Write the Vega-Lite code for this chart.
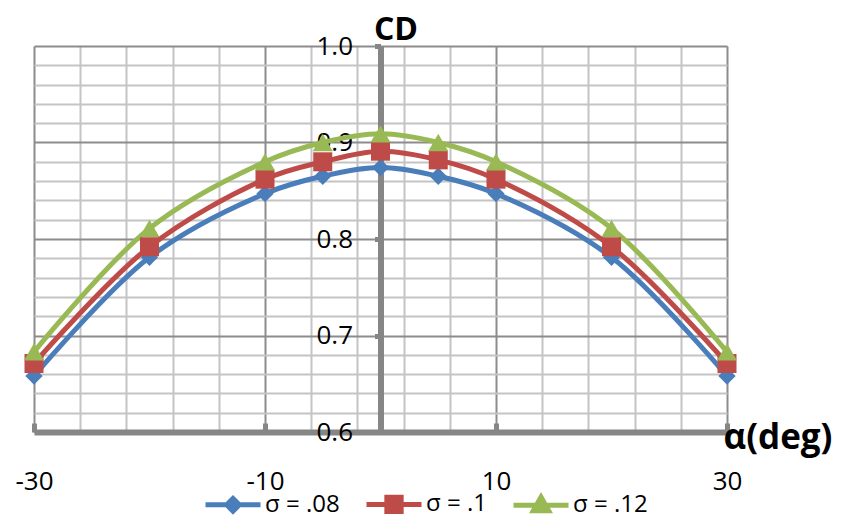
{
  "$schema": "https://vega.github.io/schema/vega-lite/v6.json",
  "width": 693,
  "height": 386,
  "autosize": "none",
  "padding": {"left": 34, "top": 46, "right": 116, "bottom": 86},
  "background": "white",
  "config": {"font": "Open Sans", "view": {"stroke": null}},
  "data": {
    "values": [
      {"alpha": -30, "cd": 0.658, "sigma": "σ = .08"},
      {"alpha": -20, "cd": 0.781, "sigma": "σ = .08"},
      {"alpha": -10, "cd": 0.847, "sigma": "σ = .08"},
      {"alpha": -5, "cd": 0.865, "sigma": "σ = .08"},
      {"alpha": 0, "cd": 0.874, "sigma": "σ = .08"},
      {"alpha": 5, "cd": 0.865, "sigma": "σ = .08"},
      {"alpha": 10, "cd": 0.847, "sigma": "σ = .08"},
      {"alpha": 20, "cd": 0.781, "sigma": "σ = .08"},
      {"alpha": 30, "cd": 0.658, "sigma": "σ = .08"},
      {"alpha": -30, "cd": 0.671, "sigma": "σ = .1"},
      {"alpha": -20, "cd": 0.792, "sigma": "σ = .1"},
      {"alpha": -10, "cd": 0.862, "sigma": "σ = .1"},
      {"alpha": -5, "cd": 0.88, "sigma": "σ = .1"},
      {"alpha": 0, "cd": 0.891, "sigma": "σ = .1"},
      {"alpha": 5, "cd": 0.882, "sigma": "σ = .1"},
      {"alpha": 10, "cd": 0.862, "sigma": "σ = .1"},
      {"alpha": 20, "cd": 0.792, "sigma": "σ = .1"},
      {"alpha": 30, "cd": 0.671, "sigma": "σ = .1"},
      {"alpha": -30, "cd": 0.683, "sigma": "σ = .12"},
      {"alpha": -20, "cd": 0.811, "sigma": "σ = .12"},
      {"alpha": -10, "cd": 0.88, "sigma": "σ = .12"},
      {"alpha": -5, "cd": 0.9, "sigma": "σ = .12"},
      {"alpha": 0, "cd": 0.909, "sigma": "σ = .12"},
      {"alpha": 5, "cd": 0.9, "sigma": "σ = .12"},
      {"alpha": 10, "cd": 0.88, "sigma": "σ = .12"},
      {"alpha": 20, "cd": 0.811, "sigma": "σ = .12"},
      {"alpha": 30, "cd": 0.683, "sigma": "σ = .12"}
    ]
  },
  "encoding": {
    "x": {
      "field": "alpha",
      "type": "quantitative",
      "scale": {"domain": [-30, 30], "nice": false, "zero": false},
      "axis": {
        "orient": "bottom",
        "values": [-30, -26, -22, -18, -14, -10, -6, -2, 2, 6, 10, 14, 18, 22, 26, 30],
        "grid": true,
        "gridWidth": 2,
        "gridColor": {"condition": {"test": "abs(datum.value) == 10 || abs(datum.value) == 30", "value": "#8c8c8c"}, "value": "#c4c4c4"},
        "domain": true,
        "domainColor": "#868686",
        "domainWidth": 6,
        "ticks": true,
        "tickColor": "#868686",
        "tickWidth": 5,
        "tickSize": -9,
        "tickOpacity": {"condition": {"test": "abs(datum.value) == 10 || abs(datum.value) == 30", "value": 1}, "value": 0},
        "labelExpr": "abs(datum.value) == 10 || abs(datum.value) == 30 ? toString(datum.value) : ''",
        "labelFont": "Open Sans",
        "labelFontSize": 26,
        "labelColor": "black",
        "labelBaseline": "alphabetic",
        "labelPadding": 66,
        "labelFlush": false,
        "labelOverlap": false,
        "title": "α(deg)",
        "titleFont": "Open Sans",
        "titleFontSize": 35,
        "titleFontWeight": "bold",
        "titleColor": "black",
        "titleAlign": "left",
        "titleBaseline": "alphabetic",
        "titleAnchor": null,
        "titleX": 689,
        "titleY": 16
      }
    },
    "y": {
      "field": "cd",
      "type": "quantitative",
      "scale": {"domain": [0.6, 1.0], "nice": false, "zero": false}
    },
    "color": {
      "field": "sigma",
      "type": "nominal",
      "scale": {"domain": ["σ = .08", "σ = .1", "σ = .12"], "range": ["#4a7ebb", "#be4b48", "#98b954"]},
      "legend": {
        "orient": "none",
        "legendX": 169,
        "legendY": 428,
        "direction": "horizontal",
        "title": null,
        "padding": 0,
        "symbolSize": 3025,
        "symbolStrokeWidth": 5,
        "labelFont": "Open Sans",
        "labelFontSize": 24,
        "labelColor": "black",
        "labelOffset": 2,
        "columnPadding": 16,
        "encode": {
          "symbols": {
            "update": {
              "shape": {"signal": "datum.value === 'σ = .08' ? 'M-1,0H1M0,-0.23L0.23,0L0,0.23L-0.23,0Z' : datum.value === 'σ = .1' ? 'M-1,0H1M-0.26,-0.26H0.26V0.26H-0.26Z' : 'M-1,0H1M0,-0.3L0.28,0.2H-0.28Z'"},
              "fill": {"scale": "color", "field": "value"},
              "stroke": {"scale": "color", "field": "value"},
              "fillOpacity": {"value": 1},
              "strokeOpacity": {"value": 1}
            }
          }
        }
      }
    }
  },
  "layer": [
    {
      "mark": {"type": "line", "interpolate": "catmull-rom", "strokeWidth": 5},
      "encoding": {
        "y": {
          "field": "cd",
          "type": "quantitative",
          "axis": {
            "orient": "left",
            "values": [0.6, 0.62, 0.64, 0.66, 0.68, 0.7, 0.72, 0.74, 0.76, 0.78, 0.8, 0.82, 0.84, 0.86, 0.88, 0.9, 0.92, 0.94, 0.96, 0.98, 1.0],
            "grid": true,
            "gridWidth": 2,
            "gridColor": {"condition": {"test": "abs(round(datum.value * 100)) % 10 == 0", "value": "#8c8c8c"}, "value": "#c4c4c4"},
            "labels": false,
            "ticks": false,
            "domain": false,
            "title": null
          }
        }
      }
    },
    {
      "transform": [{"filter": "datum.sigma === 'σ = .08'"}],
      "mark": {"type": "point", "shape": "diamond", "filled": true, "opacity": 1, "size": 300},
      "encoding": {
        "y": {
          "field": "cd",
          "type": "quantitative",
          "axis": {
            "orient": "left",
            "offset": -346.5,
            "values": [0.6, 0.7, 0.8, 0.9, 1.0],
            "format": ".1f",
            "grid": false,
            "domain": true,
            "domainColor": "#868686",
            "domainWidth": 6,
            "ticks": true,
            "tickColor": "#868686",
            "tickWidth": 5,
            "tickSize": 6,
            "labelFont": "Open Sans",
            "labelFontSize": 26,
            "labelColor": "black",
            "labelPadding": 22,
            "labelBaseline": "middle",
            "labelFlush": false,
            "labelOverlap": false,
            "title": "CD",
            "titleFont": "Open Sans",
            "titleFontSize": 32,
            "titleFontWeight": "bold",
            "titleColor": "black",
            "titleAngle": 0,
            "titleAlign": "center",
            "titleBaseline": "alphabetic",
            "titleAnchor": null,
            "titleX": 15,
            "titleY": -7
          }
        }
      }
    },
    {
      "transform": [{"filter": "datum.sigma === 'σ = .1'"}],
      "mark": {"type": "point", "shape": "square", "filled": true, "opacity": 1, "size": 361},
      "encoding": {"y": {"field": "cd", "type": "quantitative", "axis": null}}
    },
    {
      "transform": [{"filter": "datum.sigma === 'σ = .12'"}],
      "mark": {"type": "point", "shape": "triangle-up", "filled": true, "opacity": 1, "size": 400},
      "encoding": {"y": {"field": "cd", "type": "quantitative", "axis": null}}
    }
  ],
  "resolve": {"axis": {"y": "independent"}}
}
